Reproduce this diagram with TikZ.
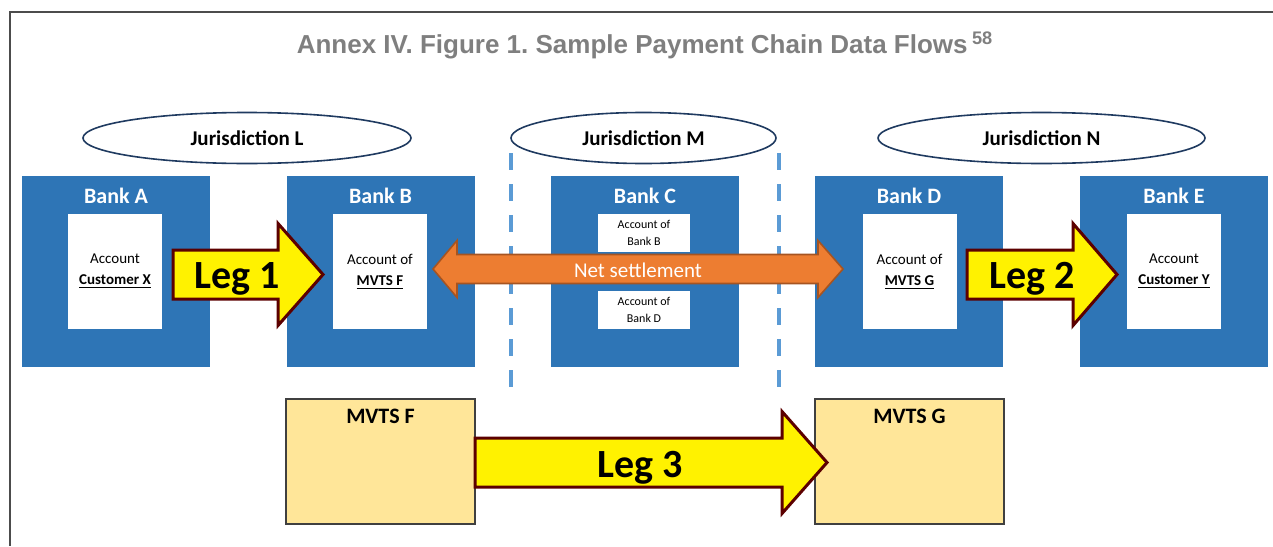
\documentclass[tikz,border=0pt]{standalone}
\usepackage{fontspec}
\setmainfont{Carlito}
\newfontfamily\titlefont{Liberation Sans}
\usetikzlibrary{shapes.geometric,positioning}
\frenchspacing

\definecolor{bankblue}{HTML}{2E75B6}
\definecolor{mvtsfill}{HTML}{FFE699}
\definecolor{legred}{HTML}{5C0000}
\definecolor{netorange}{HTML}{ED7D31}
\definecolor{netborder}{HTML}{A65421}
\definecolor{jurline}{HTML}{1F3A60}
\definecolor{dashblue}{HTML}{5B9BD5}
\definecolor{titlegray}{HTML}{7F7F7F}

\tikzset{
  bank/.style={fill=bankblue, minimum width=94pt, minimum height=95.5pt, inner sep=0pt},
  banktitle/.style={text=white, font=\bfseries\fontsize{11}{13}\selectfont, anchor=base},
  acct/.style={fill=white, minimum width=47pt, minimum height=57.5pt, inner sep=0pt,
    align=center, font=\fontsize{7.5}{10.5}\selectfont},
  smallacct/.style={fill=white, minimum width=46pt, minimum height=19pt, inner sep=0pt,
    align=center, font=\fontsize{6}{8.5}\selectfont},
  jur/.style={ellipse, draw=jurline, line width=0.8pt, minimum height=25.5pt, inner sep=0pt,
    font=\bfseries\fontsize{10.5}{12}\selectfont},
  mvts/.style={fill=mvtsfill, draw=black!75, line width=0.6pt, minimum width=94.5pt,
    minimum height=62.5pt, inner sep=0pt},
  mvtslbl/.style={font=\bfseries\fontsize{11}{13}\selectfont, anchor=base},
  legarrow/.style={fill=yellow, draw=legred, line width=1.5pt, line join=miter},
  leglbl/.style={font=\bfseries\fontsize{20}{24}\selectfont, anchor=base},
  netarrow/.style={fill=netorange, draw=netborder, line width=0.8pt, line join=miter},
  divider/.style={dashblue, line width=1.6pt, dash pattern=on 8.5pt off 7pt}
}

\begin{document}
\begin{tikzpicture}[x=0.5pt, y=-0.5pt]
\useasboundingbox (0,0) rectangle (1273,546);
% frame and title
\draw [black!70, line width=1pt] (1273,12) -- (10,12) -- (10,546);
\node[anchor=base, text=titlegray, font=\titlefont\bfseries\fontsize{13}{15}\selectfont] (title) at (645,53)
  {Annex IV. Figure 1. Sample Payment Chain Data Flows\,\textsuperscript{58}};

% jurisdictions
\node[jur, minimum width=164pt] (jurL) at (247,138) {Jurisdiction L};
\node[jur, minimum width=132.5pt] (jurM) at (643.5,138) {Jurisdiction M};
\node[jur, minimum width=163.5pt] (jurN) at (1041.5,138) {Jurisdiction N};

% banks
\foreach \n/\x in {A/116,B/380.5,C/645,D/909,E/1174} {
    \node[bank] (bank\n) at (\x,271.5) {};
    \node[banktitle] (title\n) at (\x,203) {Bank \n};
}
\node[acct] (acctA) at (115,271.5) {Account\\\underline{\textbf{Customer X}}};
\node[acct] (acctB) at (380,271.5) {Account of\\\underline{\textbf{MVTS F}}};
\node[acct] (acctD) at (909.5,271.5) {Account of\\\underline{\textbf{MVTS G}}};
\node[acct] (acctE) at (1174,271.5) {Account\\\underline{\textbf{Customer Y}}};
\node[smallacct] (acctCB) at (644,233) {Account of\\Bank B};
\node[smallacct] (acctCD) at (644,309.5) {Account of\\Bank D};

% borders of jurisdiction M
\coordinate (divL) at (511,153);
\coordinate (divR) at (779,153);
\draw [divider] (divL) -- ++(0,245);
\draw [divider] (divR) -- ++(0,245);

% MVTS
\node[mvts] (mvtsF) at (380.5,461.5) {};
\node[mvts] (mvtsG) at (909.5,461.5) {};
\node[mvtslbl] (lblF) at (380.5,423) {MVTS F};
\node[mvtslbl] (lblG) at (909.5,423) {MVTS G};

% net settlement
\coordinate (net) at (433,269);
\draw [netarrow] (net) -- ++(24,-28.5) -- ++(0,14) -- ++(361,0) -- ++(0,-14) -- ++(25,28.5)
  -- ++(-25,28.5) -- ++(0,-14) -- ++(-361,0) -- ++(0,14) -- cycle;
\node[anchor=base, text=white, font=\fontsize{10.5}{12}\selectfont] (netlbl) at (638,277) {Net settlement};

% legs
\coordinate (leg1s) at (173,274.5);
\coordinate (leg2s) at (967,274.5);
\coordinate (leg3s) at (475,462.5);
\draw [legarrow] (leg1s) -- ++(0,-24.5) -- ++(105,0) -- ++(0,-26.5) -- ++(45,51) -- ++(-45,51)
  -- ++(0,-26.5) -- ++(-105,0) -- cycle;
\draw [legarrow] (leg2s) -- ++(0,-24.5) -- ++(106,0) -- ++(0,-26.5) -- ++(44,51) -- ++(-44,51)
  -- ++(0,-26.5) -- ++(-106,0) -- cycle;
\draw [legarrow] (leg3s) -- ++(0,-24.5) -- ++(307,0) -- ++(0,-26.5) -- ++(45,51) -- ++(-45,51)
  -- ++(0,-26.5) -- ++(-307,0) -- cycle;
\node[leglbl] (leg1) at (237,288) {Leg 1};
\node[leglbl] (leg2) at (1032,288) {Leg 2};
\node[leglbl] (leg3) at (640,477) {Leg 3};
\end{tikzpicture}
\end{document}
